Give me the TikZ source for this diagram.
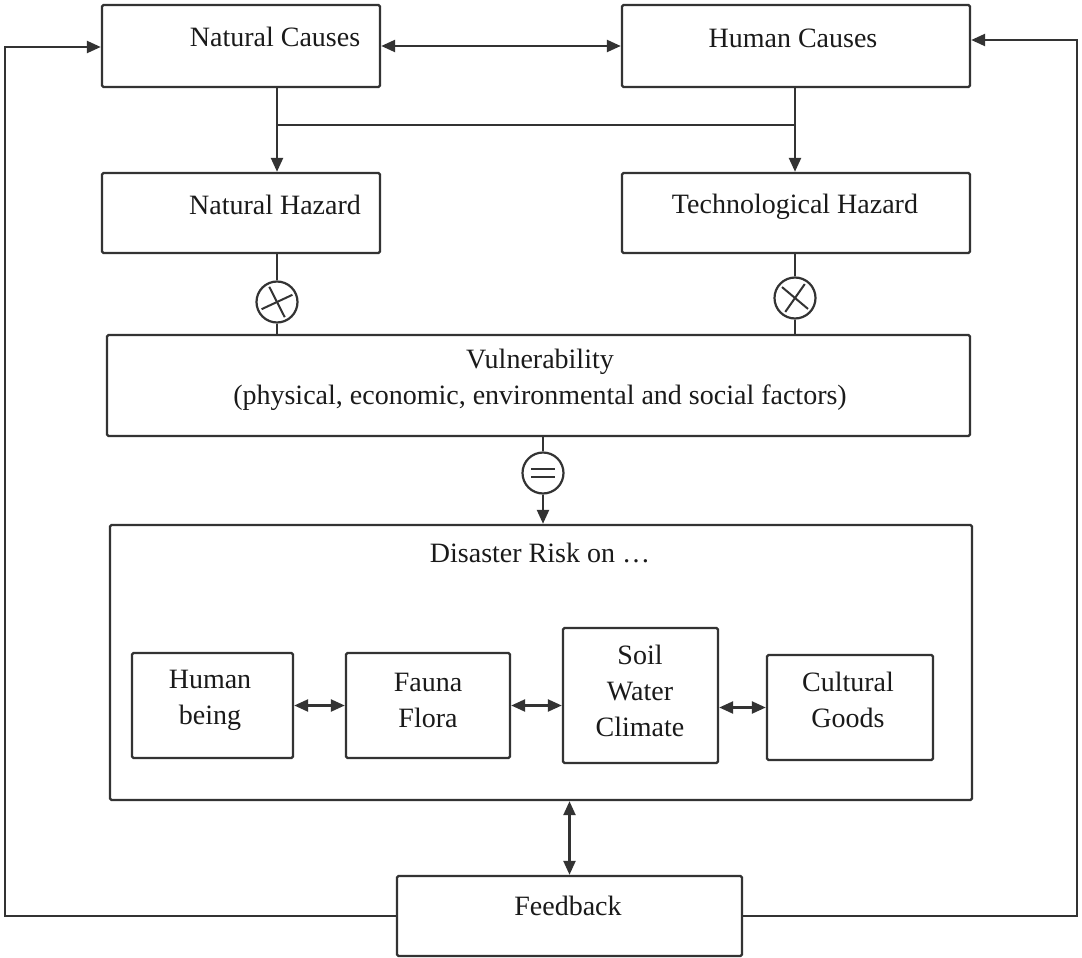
\documentclass[tikz,border=0pt]{standalone}
\usepackage{fontspec}
\setmainfont{Liberation Serif}
\usetikzlibrary{arrows.meta}
\definecolor{ink}{HTML}{333333}
\definecolor{txt}{HTML}{1A1A1A}
\begin{document}
\begin{tikzpicture}[x=1pt,y=-1pt,
  box/.style={draw=ink, line width=2.4pt, rounded corners=1.5pt, inner sep=0pt},
  lbl/.style={text=txt, font=\fontsize{28}{36}\selectfont, align=center, inner sep=0pt},
  link/.style={draw=ink, line width=2.4pt},
  arr/.style={link, -{Triangle[length=14pt,width=12pt]}},
  darr/.style={link, {Triangle[length=14pt,width=12pt]}-{Triangle[length=14pt,width=12pt]}},
  op/.style={circle, draw=ink, line width=2.2pt, minimum size=41pt, inner sep=0pt, fill=white}]

% canvas
\fill[white] (0,0) rectangle (1082,958);
\useasboundingbox (0,0) rectangle (1082,958);

% causes and hazards
\node[box, minimum width=278pt, minimum height=82pt] (nc) at (241,46) {};
\node[box, minimum width=348pt, minimum height=82pt] (hc) at (796,46) {};
\node[box, minimum width=278pt, minimum height=80pt] (nh) at (241,213) {};
\node[box, minimum width=348pt, minimum height=80pt] (th) at (796,213) {};
\node[lbl] (ncl) at (275,37) {Natural Causes};
\node[lbl] (hcl) at (793,38) {Human Causes};
\node[lbl] (nhl) at (275,205) {Natural Hazard};
\node[lbl] (thl) at (795,207) {Technological Hazard};

% vulnerability
\node[box, minimum width=863pt, minimum height=101pt] (vu) at (538.5,385.5) {};
\node[lbl] (vul) at (540,380) {Vulnerability\\(physical, economic, environmental and social factors)};

% disaster risk and its elements
\node[box, minimum width=862pt, minimum height=275pt] (dr) at (541,662.5) {};
\node[lbl] (drl) at (540,553) {Disaster Risk on …};
\node[box, minimum width=161pt, minimum height=105pt] (hb) at (212.5,705.5) {};
\node[box, minimum width=164pt, minimum height=105pt] (ff) at (428,705.5) {};
\node[box, minimum width=155pt, minimum height=135pt] (sw) at (640.5,695.5) {};
\node[box, minimum width=166pt, minimum height=105pt] (cg) at (850,707.5) {};
\node[lbl] (hbl) at (210,700) {Human\\being};
\node[lbl] (ffl) at (428,700) {Fauna\\Flora};
\node[lbl] (swl) at (640,691) {Soil\\Water\\Climate};
\node[lbl] (cgl) at (848,700) {Cultural\\Goods};

% feedback
\node[box, minimum width=345pt, minimum height=80pt] (fb) at (569.5,916) {};
\node[lbl] (fbl) at (568,906) {Feedback};

% operators
\node[op] (ox1) at (277,302) {};
\node[op] (ox2) at (795,298) {};
\node[op] (oeq) at (543,473) {};
\draw[link, line width=2pt] ([shift={(25:17pt)}]ox1.center) -- ([shift={(205:17pt)}]ox1.center);
\draw[link, line width=2pt] ([shift={(117:17pt)}]ox1.center) -- ([shift={(297:17pt)}]ox1.center);
\draw[link, line width=2pt] ([shift={(140:17pt)}]ox2.center) -- ([shift={(-40:17pt)}]ox2.center);
\draw[link, line width=2pt] ([shift={(55:17pt)}]ox2.center) -- ([shift={(235:17pt)}]ox2.center);
\draw[link, line width=2pt] ([shift={(-12pt,4pt)}]oeq.center) -- ([shift={(12pt,4pt)}]oeq.center);
\draw[link, line width=2pt] ([shift={(-12pt,-4pt)}]oeq.center) -- ([shift={(12pt,-4pt)}]oeq.center);

% connectors
\draw[darr] (nc.east) -- (hc.west);
\coordinate (j1) at (277,125);
\coordinate (j2) at (795,125);
\draw[arr] (j1 |- nc.south) -- (j1 |- nh.north);
\draw[arr] (j2 |- hc.south) -- (j2 |- th.north);
\draw[link] (j1) -- (j2);

\draw[link] (ox1 |- nh.south) -- (ox1);
\draw[link] (ox1) -- (ox1 |- vu.north);
\draw[link] (ox2 |- th.south) -- (ox2);
\draw[link] (ox2) -- (ox2 |- vu.north);
\draw[link] (oeq |- vu.south) -- (oeq);
\draw[arr] (oeq) -- (oeq |- dr.north);

\draw[darr] (hb.east) -- (ff.west);
\draw[darr] (ff.east) -- (ff.east -| sw.west);
\draw[darr] (cg.west -| sw.east) -- (cg.west);

\draw[darr] (fb.north |- dr.south) -- (fb.north);

\coordinate (lc) at (5,47);
\coordinate (rc) at (1077,40);
\draw[arr] (fb.west) -| (lc) -- (nc.west |- lc);
\draw[arr] (fb.east) -| (rc) -- (hc.east |- rc);
\end{tikzpicture}
\end{document}
